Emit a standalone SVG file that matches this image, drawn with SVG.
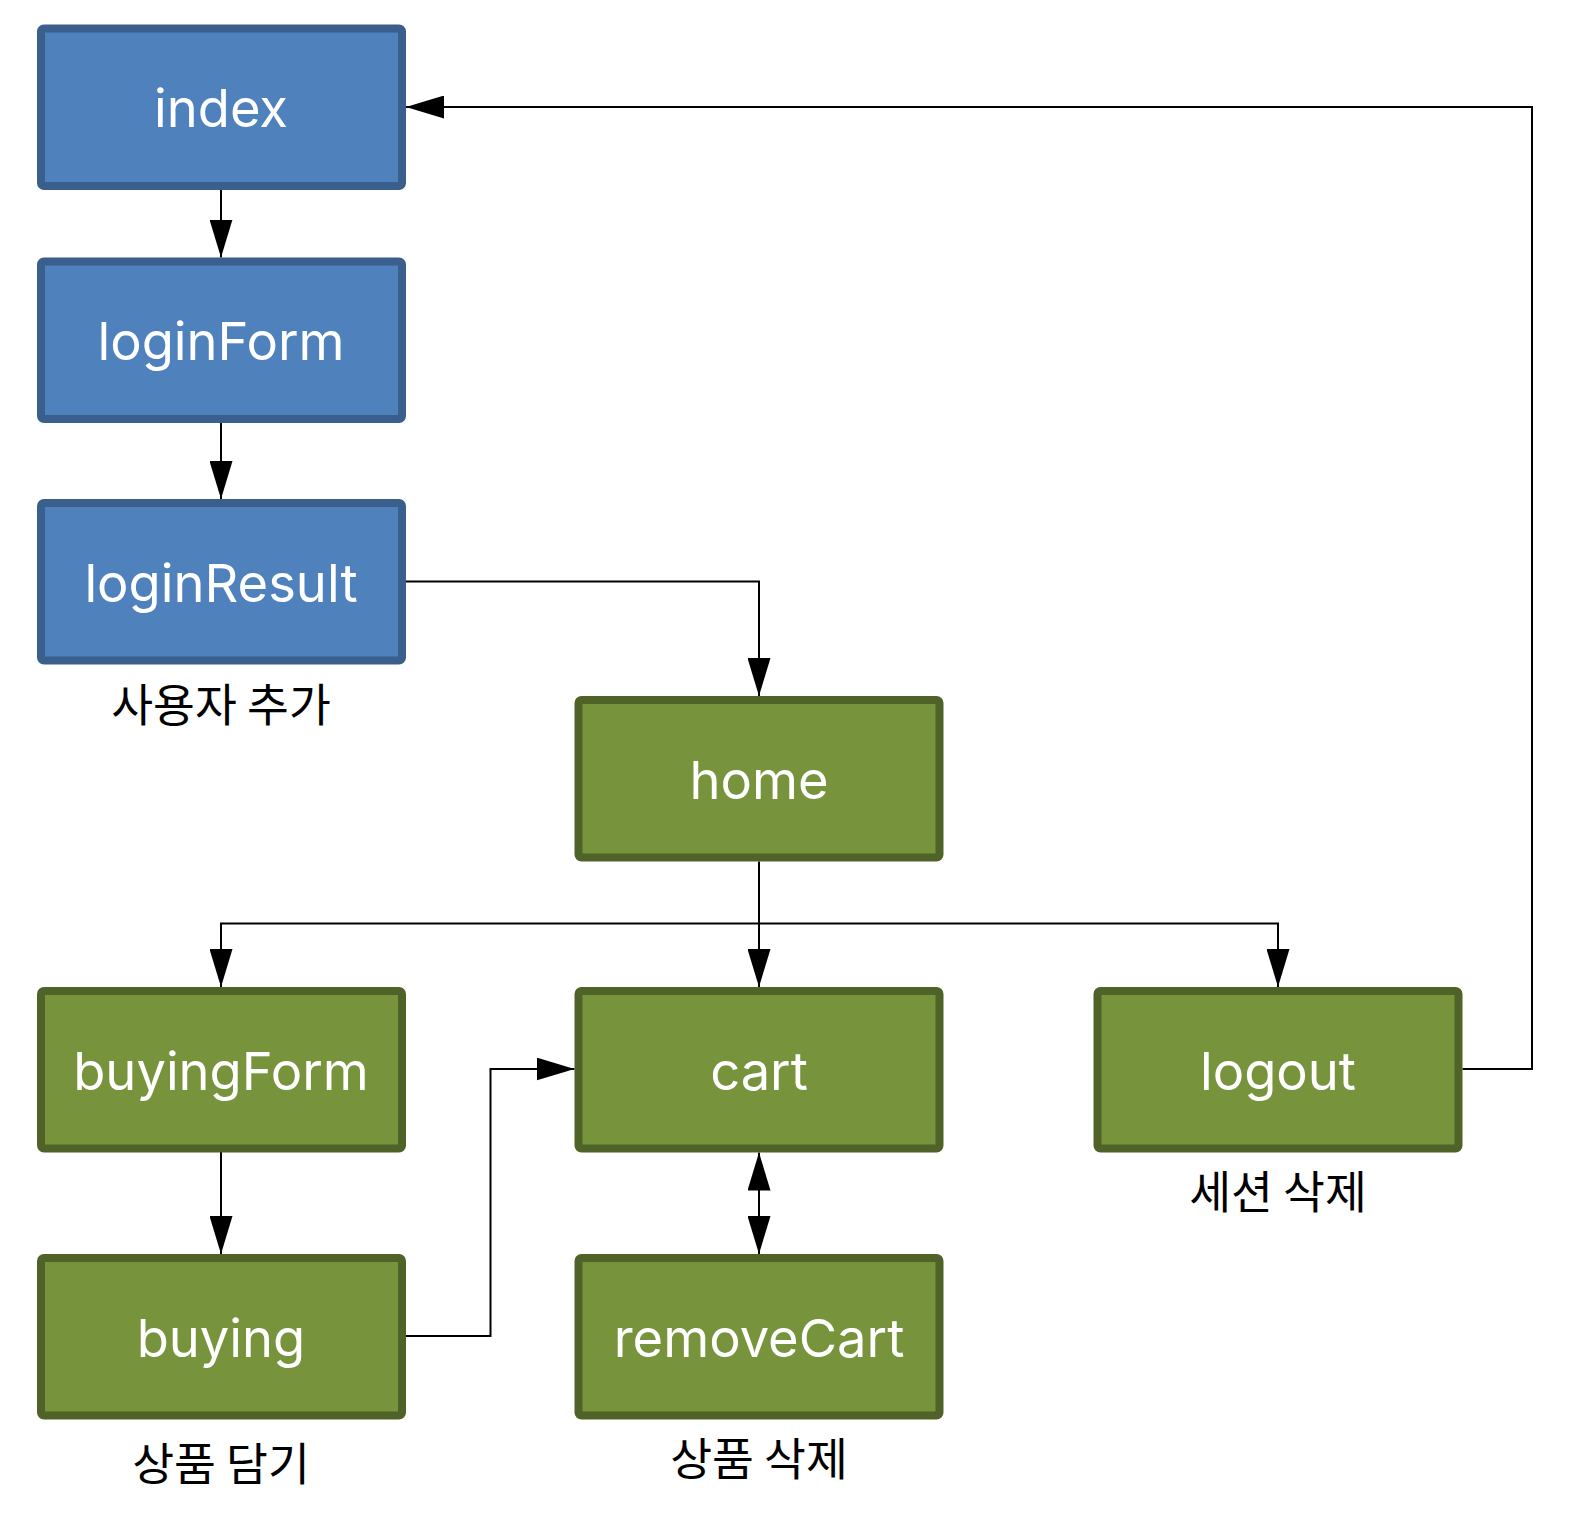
<svg xmlns="http://www.w3.org/2000/svg" width="1575" height="1516" viewBox="0 0 1575 1516">
<style>
.blue rect{fill:#4F81BD;stroke:#3A5F8D;stroke-width:8}
.green rect{fill:#77933C;stroke:#4F6228;stroke-width:8}
.node text{fill:#fff;font-family:Inter,"Liberation Sans",sans-serif;font-size:52.5px;text-anchor:middle}
.lbl{fill:#000;font-family:"Noto Sans CJK KR","Liberation Sans",sans-serif;font-size:45.5px;text-anchor:middle}
.conn path{fill:none;stroke:#000;stroke-width:2}
</style>
<defs>
<marker id="arr" viewBox="0 0 38 23" refX="38" refY="11.5" markerWidth="38" markerHeight="23" markerUnits="userSpaceOnUse" orient="auto">
<path d="M0,0 L38,11.5 L0,23 Z" fill="#000"/>
</marker>
<marker id="arrS" viewBox="0 0 38 23" refX="38" refY="11.5" markerWidth="38" markerHeight="23" markerUnits="userSpaceOnUse" orient="auto-start-reverse">
<path d="M0,0 L38,11.5 L0,23 Z" fill="#000"/>
</marker>
</defs>
<rect width="1575" height="1516" fill="#fff"/>
<g class="conn">
<path d="M221,190 L221,257.5" marker-end="url(#arr)"/>
<path d="M221,422 L221,499" marker-end="url(#arr)"/>
<path d="M406,581.5 L759,581.5 L759,696" marker-end="url(#arr)"/>
<path d="M759,861.5 L759,987" marker-end="url(#arr)"/>
<path d="M759,923.5 L221,923.5 L221,987" marker-end="url(#arr)"/>
<path d="M759,923.5 L1278,923.5 L1278,987" marker-end="url(#arr)"/>
<path d="M221,1152 L221,1254" marker-end="url(#arr)"/>
<path d="M406,1336 L490.5,1336 L490.5,1069 L574.5,1069" marker-end="url(#arr)"/>
<path d="M759,1152.5 L759,1254" marker-start="url(#arrS)" marker-end="url(#arr)"/>
<path d="M1462.5,1069 L1532,1069 L1532,107 L406,107" marker-end="url(#arr)"/>
</g>
<g id="index" class="node blue"><rect x="41" y="28.5" width="361" height="157.5" rx="3"/><text x="221" y="127">index</text></g>
<g id="loginForm" class="node blue"><rect x="41" y="261.5" width="361" height="157.5" rx="3"/><text x="221" y="360">loginForm</text></g>
<g id="loginResult" class="node blue"><rect x="41" y="503" width="361" height="157.5" rx="3"/><text x="221" y="602">loginResult</text></g>
<text class="lbl" x="221" y="722">사용자 추가</text>
<g id="home" class="node green"><rect x="578.5" y="700" width="361" height="157.5" rx="3"/><text x="759" y="799">home</text></g>
<g id="buyingForm" class="node green"><rect x="41" y="991" width="361" height="157.5" rx="3"/><text x="221" y="1090">buyingForm</text></g>
<g id="cart" class="node green"><rect x="578.5" y="991" width="361" height="157.5" rx="3"/><text x="759" y="1090">cart</text></g>
<g id="logout" class="node green"><rect x="1097.5" y="991" width="361" height="157.5" rx="3"/><text x="1278" y="1090">logout</text></g>
<text class="lbl" x="1278" y="1209">세션 삭제</text>
<g id="buying" class="node green"><rect x="41" y="1258" width="361" height="157.5" rx="3"/><text x="221" y="1357">buying</text></g>
<text class="lbl" x="221" y="1481">상품 담기</text>
<g id="removeCart" class="node green"><rect x="578.5" y="1258" width="361" height="157.5" rx="3"/><text x="759" y="1357">removeCart</text></g>
<text class="lbl" x="759" y="1476">상품 삭제</text>
</svg>
